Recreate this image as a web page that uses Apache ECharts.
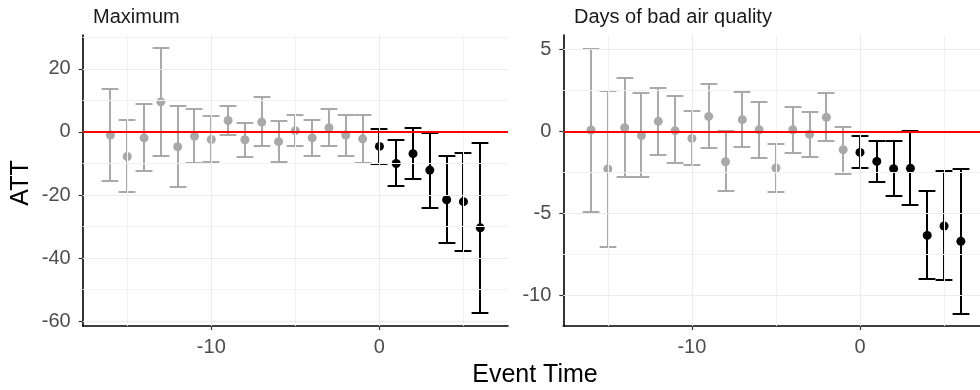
<!DOCTYPE html>
<html>
<head>
<meta charset="utf-8">
<script src="https://cdn.jsdelivr.net/npm/echarts@6/dist/echarts.min.js"></script>
<style>
  html, body { margin: 0; padding: 0; background: #fff; }
  #chart { width: 980px; height: 390px; }
</style>
</head>
<body>
<div id="chart"></div>
<script>
// Event study estimates
const eventTime = [-16, -15, -14, -13, -12, -11, -10, -9, -8, -7, -6, -5, -4, -3, -2, -1, 0, 1, 2, 3, 4, 5, 6];

const maxEst = [-1.0, -7.8, -1.9, 9.5, -4.7, -1.4, -2.4, 3.6, -2.5, 3.1, -3.1, 0.4, -1.9, 1.3, -1.0, -2.2, -4.6, -10.0, -6.9, -12.1, -21.5, -22.1, -30.4];
const maxHigh = [13.5, 3.8, 8.8, 26.5, 8.2, 7.2, 4.9, 8.2, 2.9, 11.1, 3.5, 5.3, 3.7, 7.2, 5.5, 5.3, 0.9, -2.7, 1.3, -0.5, -7.7, -6.6, -3.5];
const maxLow = [-15.7, -19.0, -12.5, -7.5, -17.6, -10.0, -9.6, -0.9, -8.1, -4.6, -9.6, -4.4, -7.5, -4.6, -7.5, -9.7, -10.3, -17.0, -15.0, -24.0, -35.1, -37.6, -57.5];

const badEst = [0.08, -2.29, 0.22, -0.26, 0.61, 0.04, -0.43, 0.91, -1.85, 0.71, 0.1, -2.23, 0.1, -0.18, 0.85, -1.12, -1.28, -1.83, -2.27, -2.25, -6.33, -5.76, -6.69];
const badHigh = [5.0, 2.47, 3.22, 2.31, 2.65, 2.15, 1.24, 2.9, 0, 2.41, 1.8, -0.79, 1.48, 1.19, 2.31, 0.28, -0.26, -0.57, -0.57, 0.02, -3.65, -2.4, -2.31];
const badLow = [-4.89, -7.04, -2.76, -2.76, -1.42, -1.95, -2.07, -1.04, -3.63, -0.96, -1.6, -3.71, -1.3, -1.56, -0.61, -2.58, -2.23, -3.1, -3.94, -4.5, -8.96, -9.07, -11.11];

const xMajorTicks = [-10, 0];
const xMinorTicks = [-15, -5, 5];
const maxMajorTicks = [20, 0, -20, -40, -60];
const maxMinorTicks = [30, 10, -10, -30, -50];
const badMajorTicks = [5, 0, -5, -10];
const badMinorTicks = [2.5, -2.5, -7.5];

const panelTitles = ["Maximum", "Days of bad air quality"];

const FONT = "'Liberation Sans', Arial, sans-serif";
const PRE_COLOR = "#a9a9a9";
const POST_COLOR = "#000000";
const CAP_HALF = 0.5;
const BAR_W = 2;

function pointColor(t) {
  return t < 0 ? PRE_COLOR : POST_COLOR;
}

// error bar = vertical stem + two caps, drawn as filled rects
function renderErrorBar(params, api) {
  const t = api.value(0);
  const top = api.coord([t, api.value(2)]);
  const bottom = api.coord([t, api.value(1)]);
  const half = api.size([CAP_HALF, 0])[0];
  const x = Math.round(top[0]);
  const y1 = Math.round(top[1]);
  const y2 = Math.round(bottom[1]);
  const style = { fill: pointColor(t) };
  return {
    type: "group",
    children: [
      { type: "rect", shape: { x: x - BAR_W / 2, y: y1 - BAR_W / 2, width: BAR_W, height: y2 - y1 + BAR_W }, style: style },
      { type: "rect", shape: { x: x - half, y: y1 - BAR_W / 2, width: half * 2, height: BAR_W }, style: style },
      { type: "rect", shape: { x: x - half, y: y2 - BAR_W / 2, width: half * 2, height: BAR_W }, style: style },
    ],
  };
}

function gridLines(yMajor, yMinor) {
  const major = { color: "#ebebeb", width: 1.2, type: "solid" };
  const minor = { color: "#f2f2f2", width: 1, type: "solid" };
  const data = [];
  yMinor.forEach(v => data.push({ yAxis: v, lineStyle: minor }));
  xMinorTicks.forEach(v => data.push({ xAxis: v, lineStyle: minor }));
  yMajor.forEach(v => data.push({ yAxis: v, lineStyle: major }));
  xMajorTicks.forEach(v => data.push({ xAxis: v, lineStyle: major }));
  return data;
}

function makeXAxis(gridIndex) {
  return {
    type: "value",
    gridIndex: gridIndex,
    min: -17.65,
    max: 7.65,
    splitLine: { show: false },
    axisLine: { onZero: false, lineStyle: { color: "#000", width: 1.6 } },
    axisTick: { customValues: xMajorTicks, length: 4, lineStyle: { color: "#333", width: 1.2 } },
    axisLabel: { customValues: xMajorTicks, fontSize: 20, color: "#4d4d4d", fontFamily: FONT, margin: 11 },
  };
}

function makeYAxis(gridIndex, min, max, ticks) {
  return {
    type: "value",
    gridIndex: gridIndex,
    min: min,
    max: max,
    splitLine: { show: false },
    axisLine: { onZero: false, lineStyle: { color: "#000", width: 1.6 } },
    axisTick: { customValues: ticks, length: 4, lineStyle: { color: "#333", width: 1.2 } },
    axisLabel: { customValues: ticks, fontSize: 20, color: "#4d4d4d", fontFamily: FONT, margin: 12 },
  };
}

function panelSeries(idx, est, low, high, yMajor, yMinor) {
  const barData = eventTime.map((t, i) => [t, low[i], high[i]]);
  const pointData = eventTime.map((t, i) => [t, est[i]]);
  return [
    {
      type: "scatter",
      xAxisIndex: idx,
      yAxisIndex: idx,
      data: [],
      z: 0,
      silent: true,
      markLine: {
        silent: true,
        symbol: ["none", "none"],
        label: { show: false },
        animation: false,
        data: gridLines(yMajor, yMinor),
      },
    },
    {
      type: "scatter",
      xAxisIndex: idx,
      yAxisIndex: idx,
      data: [],
      z: 1,
      silent: true,
      markLine: {
        silent: true,
        symbol: ["none", "none"],
        label: { show: false },
        animation: false,
        lineStyle: { color: "#ff0000", width: 2, type: "solid" },
        data: [{ yAxis: 0 }],
      },
    },
    {
      type: "custom",
      xAxisIndex: idx,
      yAxisIndex: idx,
      data: barData,
      renderItem: renderErrorBar,
      encode: { x: 0, y: [1, 2] },
      z: 2,
      silent: true,
      animation: false,
    },
    {
      type: "scatter",
      xAxisIndex: idx,
      yAxisIndex: idx,
      data: pointData,
      symbolSize: 9,
      z: 3,
      animation: false,
      itemStyle: {
        color: function (p) {
          return pointColor(p.value[0]);
        },
        opacity: 1,
      },
    },
  ];
}

const chart = echarts.init(document.getElementById("chart"));

chart.setOption({
  animation: false,
  backgroundColor: "#ffffff",
  grid: [
    { left: 82.7, top: 35, width: 425.3, height: 291, containLabel: false, outerBoundsMode: "none" },
    { left: 563.3, top: 35, width: 425.3, height: 291, containLabel: false, outerBoundsMode: "none" },
  ],
  xAxis: [makeXAxis(0), makeXAxis(1)],
  yAxis: [
    makeYAxis(0, -61.5, 30.7, maxMajorTicks),
    makeYAxis(1, -11.84, 5.86, badMajorTicks),
  ],
  series: [
    ...panelSeries(0, maxEst, maxLow, maxHigh, maxMajorTicks, maxMinorTicks),
    ...panelSeries(1, badEst, badLow, badHigh, badMajorTicks, badMinorTicks),
  ],
  graphic: [
    {
      type: "text",
      x: 93,
      y: 17,
      style: { text: panelTitles[0], fontSize: 20, fontFamily: FONT, fill: "#1a1a1a", align: "left", verticalAlign: "middle" },
    },
    {
      type: "text",
      x: 574,
      y: 17,
      style: { text: panelTitles[1], fontSize: 20, fontFamily: FONT, fill: "#1a1a1a", align: "left", verticalAlign: "middle" },
    },
    {
      type: "text",
      x: 21,
      y: 183,
      rotation: Math.PI / 2,
      style: { text: "ATT", fontSize: 25, fontFamily: FONT, fill: "#000", align: "center", verticalAlign: "middle" },
    },
    {
      type: "text",
      x: 535,
      y: 375,
      style: { text: "Event Time", fontSize: 25, fontFamily: FONT, fill: "#000", align: "center", verticalAlign: "middle" },
    },
  ],
});
</script>
</body>
</html>
